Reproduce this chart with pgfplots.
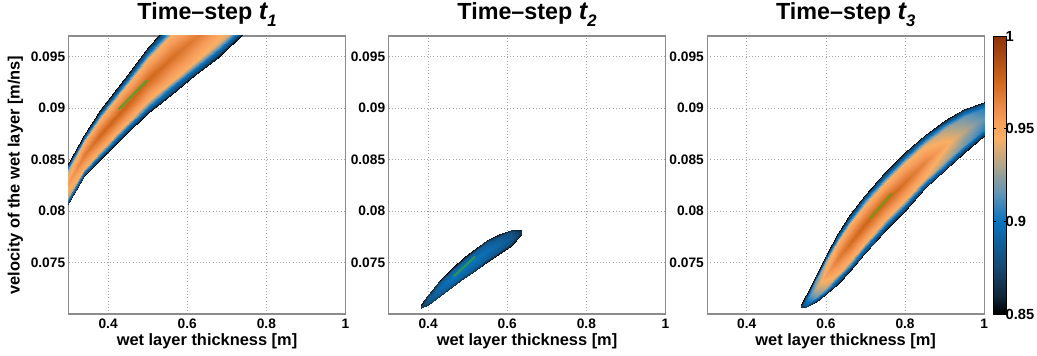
\documentclass[border=0pt]{standalone}
\usepackage{pgfplots}
\pgfplotsset{compat=1.18}
\usepackage{fontspec}
\setmainfont{Liberation Sans}
\definecolor{gridc}{RGB}{165,165,165}
\definecolor{framec}{RGB}{140,140,140}
\definecolor{gA}{RGB}{90,160,40}
\definecolor{gB}{RGB}{40,150,80}
\definecolor{gC}{RGB}{120,150,20}
\pgfplotsset{
  colormap={ppd}{rgb255(0cm)=(0,0,0) rgb255(2cm)=(15,38,58) rgb255(5cm)=(22,72,112)
    rgb255(10cm)=(10,115,190) rgb255(13cm)=(95,148,182) rgb255(16cm)=(175,165,140)
    rgb255(19cm)=(250,175,100) rgb255(21cm)=(246,155,90) rgb255(25cm)=(210,105,30)
    rgb255(30cm)=(140,50,10)},
  ppd/.style={
    scale only axis, width=207.75pt, height=208.5pt,
    xmin=0.3, xmax=1, ymin=0.07, ymax=0.097,
    scaled x ticks=false, scaled y ticks=false,
    xtick={0.4,0.6,0.8,1}, xticklabels={0.4,0.6,0.8,1},
    ytick={0.075,0.08,0.085,0.09,0.095}, yticklabels={0.075,0.08,0.085,0.09,0.095},
    grid=major, major grid style={dotted, gridc, line width=0.6pt},
    axis line style={framec, line width=0.8pt},
    tick style={draw=none},
    ticklabel style={font=\bfseries\fontsize{10.3}{12}\selectfont},
    yticklabel style={xshift=1pt},
    label style={font=\bfseries\fontsize{12.3}{14}\selectfont},
    xlabel style={yshift=3pt},
    title style={font=\bfseries\fontsize{17.5}{20}\selectfont, at={(0.5,1)}, anchor=base, yshift=6pt},
    xlabel={wet layer thickness [m]},
    colormap name=ppd, point meta min=0.85, point meta max=1,
  },
  band/.style={surf, shader=interp, point meta=explicit, mesh/ordering=y varies},
}
\newcommand{\tstep}[1]{Time–step {\fontsize{19}{20}\selectfont\itshape t}\raisebox{-0.5ex}{\fontsize{12.5}{13}\selectfont\itshape #1}}
\begin{document}
\begin{tikzpicture}
\path[use as bounding box] (0,0) rectangle (777.75pt,267pt);
% ---------------- panel 1 ----------------
\begin{axis}[ppd, at={(51.4pt,31.5pt)}, anchor=south west,
  title={\tstep{1}}, ylabel={velocity of the wet layer [m/ns]}, ylabel style={yshift=-1pt}]
\addplot[band] table[meta=c] {
x y c
0.29 0.0802 0.85
0.29 0.08032 0.875
0.29 0.0806 0.905
0.29 0.08092 0.93
0.29 0.0822 0.95
0.29 0.08348 0.93
0.29 0.0838 0.905
0.29 0.08408 0.875
0.29 0.0842 0.85

0.30 0.0809 0.85
0.30 0.08102 0.875
0.30 0.08129 0.905
0.30 0.0816 0.935
0.30 0.08285 0.955
0.30 0.0841 0.935
0.30 0.08441 0.905
0.30 0.08468 0.875
0.30 0.0848 0.85

0.34 0.0834 0.85
0.34 0.08352 0.875
0.34 0.0838 0.905
0.34 0.08412 0.945
0.34 0.0854 0.968
0.34 0.08668 0.945
0.34 0.087 0.905
0.34 0.08728 0.875
0.34 0.0874 0.85

0.38 0.085 0.85
0.38 0.08514 0.875
0.38 0.08548 0.905
0.38 0.08586 0.945
0.38 0.0874 0.976
0.38 0.08894 0.945
0.38 0.08932 0.905
0.38 0.08966 0.875
0.38 0.0898 0.85

0.44 0.0873 0.85
0.44 0.08747 0.875
0.44 0.08785 0.905
0.44 0.08829 0.945
0.44 0.09005 0.978
0.44 0.09181 0.945
0.44 0.09225 0.905
0.44 0.09264 0.875
0.44 0.0928 0.85

0.50 0.0895 0.85
0.50 0.08969 0.875
0.50 0.09014 0.905
0.50 0.09065 0.945
0.50 0.0927 0.976
0.50 0.09475 0.945
0.50 0.09526 0.905
0.50 0.09571 0.875
0.50 0.0959 0.85

0.56 0.0913 0.85
0.56 0.09151 0.875
0.56 0.09201 0.905
0.56 0.09258 0.945
0.56 0.09485 0.973
0.56 0.09712 0.945
0.56 0.09769 0.905
0.56 0.09819 0.875
0.56 0.0984 0.85

0.62 0.0932 0.85
0.62 0.09342 0.875
0.62 0.09392 0.905
0.62 0.0945 0.945
0.62 0.0968 0.968
0.62 0.0991 0.945
0.62 0.09968 0.905
0.62 0.10018 0.875
0.62 0.1004 0.85

0.68 0.095 0.85
0.68 0.09522 0.875
0.68 0.09572 0.905
0.68 0.0963 0.94
0.68 0.0986 0.963
0.68 0.1009 0.94
0.68 0.10148 0.905
0.68 0.10198 0.875
0.68 0.1022 0.85

0.745 0.0974 0.85
0.745 0.0976 0.875
0.745 0.09806 0.905
0.745 0.09859 0.935
0.745 0.1007 0.955
0.745 0.10281 0.935
0.745 0.10334 0.905
0.745 0.1038 0.875
0.745 0.104 0.85
};
\addplot[gA, line width=1.6pt] coordinates {(0.427,0.0899) (0.498,0.0927)};
\end{axis}
% ---------------- panel 2 ----------------
\begin{axis}[ppd, at={(291.4pt,31.5pt)}, anchor=south west, title={\tstep{2}}]
\addplot[band] table[meta=c] {
x y c
0.383 0.07055 0.85
0.383 0.07056 0.855
0.383 0.07059 0.86
0.383 0.07062 0.865
0.383 0.07075 0.87
0.383 0.07088 0.865
0.383 0.07091 0.86
0.383 0.07094 0.855
0.383 0.07095 0.85

0.40 0.07085 0.85
0.40 0.07088 0.862
0.40 0.07095 0.872
0.40 0.07104 0.879
0.40 0.07137 0.885
0.40 0.0717 0.879
0.40 0.07178 0.872
0.40 0.07185 0.862
0.40 0.07188 0.85

0.43 0.0717 0.85
0.43 0.07175 0.864
0.43 0.07186 0.877
0.43 0.07199 0.887
0.43 0.07251 0.895
0.43 0.07302 0.887
0.43 0.07315 0.877
0.43 0.07326 0.864
0.43 0.07331 0.85

0.46 0.0726 0.85
0.46 0.07266 0.865
0.46 0.07279 0.88
0.46 0.07294 0.89
0.46 0.07353 0.9
0.46 0.07413 0.89
0.46 0.07427 0.88
0.46 0.0744 0.865
0.46 0.07446 0.85

0.49 0.07346 0.85
0.49 0.07352 0.865
0.49 0.07366 0.88
0.49 0.07383 0.89
0.49 0.07448 0.9
0.49 0.07513 0.89
0.49 0.07529 0.88
0.49 0.07543 0.865
0.49 0.07549 0.85

0.52 0.07426 0.85
0.52 0.07432 0.865
0.52 0.07448 0.88
0.52 0.07465 0.89
0.52 0.07534 0.9
0.52 0.07602 0.89
0.52 0.0762 0.88
0.52 0.07635 0.865
0.52 0.07641 0.85

0.55 0.07505 0.85
0.55 0.07511 0.864
0.55 0.07527 0.879
0.55 0.07544 0.888
0.55 0.07613 0.897
0.55 0.07682 0.888
0.55 0.07699 0.879
0.55 0.07715 0.864
0.55 0.07721 0.85

0.58 0.07582 0.85
0.58 0.07588 0.863
0.58 0.07602 0.876
0.58 0.07617 0.885
0.58 0.0768 0.892
0.58 0.07742 0.885
0.58 0.07758 0.876
0.58 0.07771 0.863
0.58 0.07777 0.85

0.61 0.07662 0.85
0.61 0.07667 0.862
0.61 0.07678 0.872
0.61 0.0769 0.879
0.61 0.07741 0.885
0.61 0.07792 0.879
0.61 0.07804 0.872
0.61 0.07815 0.862
0.61 0.0782 0.85

0.636 0.0777 0.85
0.636 0.07772 0.854
0.636 0.07775 0.858
0.636 0.07779 0.862
0.636 0.07795 0.865
0.636 0.07811 0.862
0.636 0.07815 0.858
0.636 0.07819 0.854
0.636 0.0782 0.85
};
\addplot[gB, line width=1.6pt] coordinates {(0.464,0.07365) (0.519,0.07558)};
\end{axis}
% ---------------- panel 3 ----------------
\begin{axis}[ppd, at={(530.4pt,31.5pt)}, anchor=south west, title={\tstep{3}},
  colorbar, colorbar shift/.style={xshift=0.6pt},
  colorbar style={width=9.75pt, ytick={0.85,0.9,0.95,1}, yticklabels={0.85,0.9,0.95,1},
    yticklabel style={font=\bfseries\fontsize{11}{13}\selectfont, xshift=-4pt},
    axis line style={black, line width=0.6pt}, major tick length=2pt,
    tick style={black, line width=0.4pt}}]
\addplot[band] table[meta=c] {
x y c
0.538 0.07065 0.85
0.538 0.07066 0.855
0.538 0.07068 0.86
0.538 0.0707 0.865
0.538 0.0708 0.87
0.538 0.0709 0.865
0.538 0.07092 0.86
0.538 0.07094 0.855
0.538 0.07095 0.85

0.55 0.07067 0.85
0.55 0.0707 0.867
0.55 0.07078 0.882
0.55 0.07087 0.892
0.55 0.07124 0.90
0.55 0.0716 0.892
0.55 0.07169 0.882
0.55 0.07177 0.867
0.55 0.0718 0.85

0.575 0.0712 0.85
0.575 0.07128 0.872
0.575 0.07146 0.895
0.575 0.07167 0.918
0.575 0.0725 0.935
0.575 0.07333 0.918
0.575 0.07354 0.895
0.575 0.07372 0.872
0.575 0.0738 0.85

0.60 0.0719 0.85
0.60 0.07201 0.875
0.60 0.07228 0.905
0.60 0.07258 0.935
0.60 0.0738 0.955
0.60 0.07502 0.935
0.60 0.07532 0.905
0.60 0.07559 0.875
0.60 0.0757 0.85

0.63 0.07296 0.85
0.63 0.07311 0.875
0.63 0.07345 0.905
0.63 0.07385 0.945
0.63 0.07543 0.968
0.63 0.07701 0.945
0.63 0.07741 0.905
0.63 0.07775 0.875
0.63 0.0779 0.85

0.66 0.07416 0.85
0.66 0.07433 0.875
0.66 0.07471 0.905
0.66 0.07516 0.945
0.66 0.07693 0.974
0.66 0.0787 0.945
0.66 0.07915 0.905
0.66 0.07953 0.875
0.66 0.0797 0.85

0.70 0.0759 0.85
0.70 0.07607 0.875
0.70 0.07647 0.905
0.70 0.07693 0.945
0.70 0.07875 0.977
0.70 0.08057 0.945
0.70 0.08103 0.905
0.70 0.08143 0.875
0.70 0.0816 0.85

0.75 0.0781 0.85
0.75 0.07827 0.875
0.75 0.07867 0.905
0.75 0.07913 0.945
0.75 0.08095 0.977
0.75 0.08277 0.945
0.75 0.08323 0.905
0.75 0.08363 0.875
0.75 0.0838 0.85

0.80 0.0800 0.85
0.80 0.08017 0.875
0.80 0.08057 0.905
0.80 0.08103 0.945
0.80 0.08285 0.972
0.80 0.08467 0.945
0.80 0.08513 0.905
0.80 0.08553 0.875
0.80 0.0857 0.85

0.85 0.0822 0.85
0.85 0.08236 0.875
0.85 0.08272 0.905
0.85 0.08314 0.942
0.85 0.0848 0.964
0.85 0.08646 0.942
0.85 0.08688 0.905
0.85 0.08724 0.875
0.85 0.0874 0.85

0.90 0.08397 0.85
0.90 0.08412 0.875
0.90 0.08445 0.905
0.90 0.08484 0.93
0.90 0.08639 0.95
0.90 0.08793 0.93
0.90 0.08832 0.905
0.90 0.08866 0.875
0.90 0.0888 0.85

0.95 0.08566 0.85
0.95 0.08579 0.872
0.95 0.08608 0.897
0.95 0.08642 0.918
0.95 0.08778 0.932
0.95 0.08914 0.918
0.95 0.08948 0.897
0.95 0.08977 0.872
0.95 0.0899 0.85

1.0 0.0873 0.85
1.0 0.0874 0.868
1.0 0.08763 0.89
1.0 0.08789 0.905
1.0 0.08895 0.915
1.0 0.09001 0.905
1.0 0.09027 0.89
1.0 0.0905 0.868
1.0 0.0906 0.85

1.01 0.0876 0.85
1.01 0.08769 0.867
1.01 0.08791 0.888
1.01 0.08816 0.902
1.01 0.08915 0.912
1.01 0.09014 0.902
1.01 0.09039 0.888
1.01 0.09061 0.867
1.01 0.0907 0.85
};
\addplot[gC, line width=1.6pt] coordinates {(0.711,0.0793) (0.766,0.0817)};
\end{axis}
\end{tikzpicture}
\end{document}
